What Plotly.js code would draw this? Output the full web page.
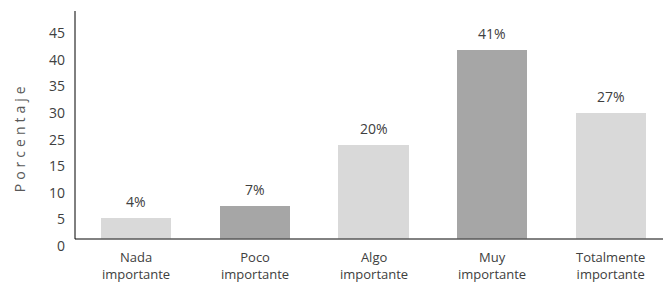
<!DOCTYPE html>
<html>
<head>
<meta charset="utf-8">
<script src="https://cdn.plot.ly/plotly-3.0.1.min.js"></script>
<style>
html, body { margin: 0; padding: 0; background: #fff; }
#chart { width: 663px; height: 283px; }
g.annotation[data-index="0"] text { letter-spacing: 4px; }
</style>
</head>
<body>
<div id="chart"></div>
<script>
// Categories (x axis)
const categories = ['Nada importante', 'Poco importante', 'Algo importante', 'Muy importante', 'Totalmente importante'];
// Bar heights, in axis units
const barHeights = [3.9, 6.2, 17.7, 35.7, 23.8];
// Value labels printed above the bars
const valueLabels = ['4%', '7%', '20%', '41%', '27%'];
// Bar colours per category
const barColors = ['#D9D9D9', '#A6A6A6', '#D9D9D9', '#A6A6A6', '#D9D9D9'];
// Y tick labels (printed slightly below their gridline positions, as in the reference)
const yTickText = ['0', '5', '10', '15', '25', '30', '35', '40', '45'];
const yTickStep = 5;
const yLabelOffset = -1.25;
const yTitle = 'Porcentaje';

const yTickVals = yTickText.map((t, i) => i * yTickStep + yLabelOffset);
const xIdx = categories.map((c, i) => i);
const FONT = '"Open Sans", "Segoe UI", sans-serif';
const Y_MAX = 43.0;

const trace = {
  type: 'bar',
  x: xIdx,
  y: barHeights,
  width: 0.59,
  marker: { color: barColors, line: { width: 0 } },
  hoverinfo: 'skip'
};

const annotations = [];
// y-axis title (index 0, letter-spaced via CSS)
annotations.push({
  xref: 'paper', yref: 'y', x: 0, y: 19.2,
  xanchor: 'center', yanchor: 'middle', xshift: -56,
  text: yTitle, textangle: -90, showarrow: false,
  font: { family: FONT, size: 14, color: '#595959' }
});
categories.forEach((c, i) => {
  const parts = c.split(' ');
  annotations.push({
    x: i, y: barHeights[i], xref: 'x', yref: 'y',
    text: valueLabels[i], showarrow: false,
    yanchor: 'bottom', yshift: 5,
    font: { family: FONT, size: 14, color: '#404040' }
  });
  annotations.push({
    x: i, y: 0, xref: 'x', yref: 'y',
    text: parts[0] + '<br>' + parts.slice(1).join(' '), showarrow: false,
    yanchor: 'middle', yshift: -26,
    font: { family: FONT, size: 13, color: '#404040' }
  });
});

const shapes = [
  // baseline (x axis line)
  { type: 'line', xref: 'paper', yref: 'y', x0: 0, x1: 1, y0: 0, y1: 0,
    line: { color: '#595959', width: 1.5 }, layer: 'above' },
  // y axis line
  { type: 'line', xref: 'paper', yref: 'y', x0: 0, x1: 0, y0: 0, y1: Y_MAX,
    line: { color: '#000000', width: 1 }, layer: 'above' }
];

const layout = {
  width: 663,
  height: 283,
  margin: { l: 75, r: 0, t: 11, b: 37, pad: 0 },
  paper_bgcolor: '#ffffff',
  plot_bgcolor: '#ffffff',
  showlegend: false,
  bargap: 0,
  xaxis: {
    range: [-0.514, 4.438],
    showgrid: false,
    zeroline: false,
    showline: false,
    showticklabels: false,
    ticks: '',
    fixedrange: true
  },
  yaxis: {
    range: [-1.3, Y_MAX],
    tickvals: yTickVals,
    ticktext: yTickText,
    showgrid: false,
    zeroline: false,
    showline: false,
    ticks: '',
    ticklabelstandoff: 9,
    tickfont: { family: FONT, size: 14, color: '#404040' },
    fixedrange: true
  },
  shapes: shapes,
  annotations: annotations
};

Plotly.newPlot('chart', [trace], layout, { displayModeBar: false, staticPlot: true });
</script>
</body>
</html>
